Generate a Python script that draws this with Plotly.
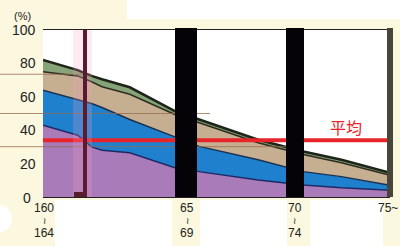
import plotly.graph_objects as go

# sample positions along the x axis (0 = "60~64", 100 = "75~")
x_pos = [0, 10, 14, 17, 25, 38, 45, 62, 75, 86, 100]

# layer shares (%) stacked bottom -> top
purple = [43, 37, 30, 28, 26.5, 17.5, 15.2, 10.2, 7.2, 5.5, 4]
blue = [21, 21.4, 26, 25.6, 19.9, 18.5, 15.1, 12.1, 8, 6.7, 3]
tan = [11, 14.1, 13, 12.4, 15.1, 13.4, 14.2, 10.2, 10.3, 8.3, 6]
green = [7, 3.5, 3.5, 4.5, 4.2, 2.1, 1.9, 1.8, 1.8, 1.8, 1.5]

average = 34
avg_label = "平均"

tick_pos = [0, 41.5, 72.6, 100]
tick_top = ["160", "65", "70", "75~"]
tick_mid = ["≀", "≀", "≀", ""]
tick_bottom = ["164", "69", "74", ""]
y_ticks = [0, 20, 40, 60, 80, 100]

CREAM = "#fcf7df"
FONT = "Liberation Sans, Arial, sans-serif"
TXT = "#222222"

fig = go.Figure()
layers = [
    (purple, "#a97bb9", "#1d2a66", 1.5),
    (blue, "#1f80cd", "#1c3050", 1.5),
    (tan, "#c6ae90", "#2c2c20", 1.5),
    (green, "#86a477", "#1f2418", 2.5),
]
for vals, fillc, linec, lw in layers:
    fig.add_trace(go.Scatter(
        x=x_pos, y=vals, stackgroup="one", mode="lines",
        line=dict(color=linec, width=lw, shape="linear"),
        fillcolor=fillc, hoverinfo="skip", showlegend=False,
    ))

# average line
fig.add_trace(go.Scatter(
    x=[x_pos[0], x_pos[-1]], y=[average, average], mode="lines",
    line=dict(color="#e8242b", width=4), showlegend=False,
    cliponaxis=False, hoverinfo="skip",
))


def px_x(p):
    return (p - 43) / 347


def px_y(p):
    return (197 - p) / 166


shapes = []
# white patches in the cream background
for x0, y0, x1, y1 in [(127, 0, 400, 20), (55, 200, 172, 246),
                       (200, 200, 287, 246), (310, 200, 383, 246)]:
    shapes.append(dict(type="rect", xref="paper", yref="paper",
                       x0=px_x(x0), x1=px_x(x1), y0=px_y(y0), y1=px_y(y1),
                       fillcolor="white", line_width=0, layer="below"))
shapes.append(dict(type="circle", xref="paper", yref="paper",
                   x0=px_x(-14), x1=px_x(12), y0=px_y(205), y1=px_y(232),
                   fillcolor="white", line_width=0, layer="below"))
# thin brown guide lines
for x0, x1, y in [(0, 83, 75), (0, 210, 114), (0, 286, 147)]:
    shapes.append(dict(type="line", xref="paper", yref="paper",
                       x0=px_x(x0), x1=px_x(x1), y0=px_y(y), y1=px_y(y),
                       line=dict(color="rgba(150,105,75,0.75)", width=1), layer="above"))
# pink overlay and vertical bars
shapes.append(dict(type="rect", xref="paper", yref="paper",
                   x0=px_x(73), x1=px_x(92), y0=0, y1=1,
                   fillcolor="rgba(245,160,200,0.22)", line_width=0, layer="above"))
shapes.append(dict(type="rect", xref="paper", yref="paper",
                   x0=px_x(83), x1=px_x(87), y0=0, y1=1,
                   fillcolor="#5a1a30", line_width=0, layer="above"))
shapes.append(dict(type="rect", xref="paper", yref="paper",
                   x0=px_x(74), x1=px_x(87), y0=0, y1=px_y(192),
                   fillcolor="#5a1a30", line_width=0, layer="above"))
for x0, x1, c in [(175, 197, "#050308"), (286, 304, "#050308"), (387, 393, "#48453a")]:
    shapes.append(dict(type="rect", xref="paper", yref="paper",
                       x0=px_x(x0), x1=px_x(x1), y0=0, y1=px_y(29),
                       fillcolor=c, line_width=0, layer="above"))

annotations = [
    dict(text="(%)", xref="paper", yref="paper", x=px_x(22), y=px_y(17),
         xanchor="center", yanchor="middle",
         showarrow=False, font=dict(size=11, family=FONT, color=TXT)),
    dict(text=avg_label, xref="paper", yref="y", x=px_x(346), y=average,
         xanchor="center", yanchor="middle",
         yshift=13, showarrow=False,
         font=dict(size=16, color="#e8242b",
                   family="Noto Sans CJK JP, Noto Sans CJK SC, sans-serif")),
]
# y tick labels
for v in y_ticks:
    annotations.append(dict(text=str(v), xref="paper", yref="y",
                            x=px_x(33 if v == 0 else 38), y=v,
                            yshift=-1 if v == 0 else 0,
                            xanchor="right", yanchor="middle", showarrow=False,
                            font=dict(size=14, family=FONT, color=TXT)))
# x tick labels
for xp, t, m, b in zip(tick_pos, tick_top, tick_mid, tick_bottom):
    for txt, py, sz in [(t, 208, 12), (m, 220.5, 9), (b, 233, 12)]:
        if not txt:
            continue
        if txt == "75~":
            annotations.append(dict(text=txt, xref="paper", yref="paper",
                                    x=px_x(400), y=px_y(py), showarrow=False,
                                    xanchor="right", yanchor="middle",
                                    font=dict(size=sz, family=FONT, color=TXT)))
        else:
            annotations.append(dict(text=txt, xref="x", yref="paper", x=xp,
                                    y=px_y(py), showarrow=False,
                                    xanchor="center", yanchor="middle",
                                    xshift=1 if xp == tick_pos[0] else 0,
                                    font=dict(size=sz, family=FONT, color=TXT)))

fig.update_layout(
    width=400, height=246,
    margin=dict(l=43, r=10, t=30, b=49),
    paper_bgcolor=CREAM, plot_bgcolor="white",
    font=dict(family=FONT, color="#111111", size=13),
    shapes=shapes,
    annotations=annotations,
    xaxis=dict(range=[0, 100], showticklabels=False, automargin=False,
               showgrid=False, zeroline=False, showline=True, mirror=True,
               linecolor="#222222", linewidth=1, ticks=""),
    yaxis=dict(range=[0, 100], tickvals=y_ticks, showticklabels=False,
               showgrid=False, zeroline=False, showline=False, ticks="",
               automargin=False),
)

fig.write_html("out.html")
